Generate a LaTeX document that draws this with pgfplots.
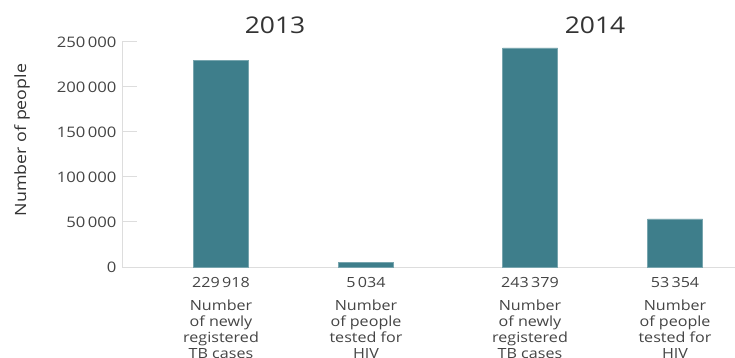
\documentclass[border=0pt]{standalone}
\usepackage{pgfplots}
\pgfplotsset{compat=1.18}
\usepackage{fontspec}
\setmainfont{Open Sans}[FakeStretch=1.15]
\definecolor{barc}{HTML}{3E7E8B}
\definecolor{axc}{HTML}{DDDDDD}
\definecolor{txt}{HTML}{333333}
\definecolor{tk}{HTML}{444444}
\begin{document}
\begin{tikzpicture}
\path[use as bounding box] (0,0) rectangle (735bp,358bp);
\begin{axis}[
  at={(122bp,91bp)}, anchor=origin,
  scale only axis, width=613bp, height=225bp,
  xmin=122, xmax=735, ymin=0, ymax=250000,
  scaled y ticks=false,
  axis x line*=bottom, axis y line*=left,
  axis line style={axc, line width=1bp},
  ytick={0,50000,100000,150000,200000,250000},
  yticklabels={0,50\,000,100\,000,150\,000,200\,000,250\,000},
  yticklabel style={font=\fontsize{14.5bp}{16bp}\selectfont, text=tk, xshift=-2bp},
  ytick style={axc, line width=1bp},
  tick align=inside, major tick length=15bp,
  xtick={221,366,530,675},
  xtick style={draw=none},
  xticklabels={
    {229\,918\\[7bp]Number\\of newly\\registered\\TB cases},
    {5\,034\\[7bp]Number\\of people\\tested for\\HIV},
    {243\,379\\[7bp]Number\\of newly\\registered\\TB cases},
    {53\,354\\[7bp]Number\\of people\\tested for\\HIV}},
  xticklabel style={align=center, font=\fontsize{14bp}{16bp}\selectfont, text=tk, yshift=-7bp},
  clip=false,
]
\addplot[ybar, bar width=55bp, fill=barc, draw=barc!70!white, line width=0.6bp]
  coordinates {(221,229918) (366,5034) (530,243379) (675,53354)};
\node[font=\fontsize{23bp}{26bp}\selectfont, text=txt] at (axis cs:275,268889) {2013};
\node[font=\fontsize{23bp}{26bp}\selectfont, text=txt] at (axis cs:595,268889) {2014};
\node[rotate=90, font=\fontsize{15.5bp}{18bp}\selectfont, text=txt] at (axis cs:22,141111) {Number of people};
\end{axis}
\end{tikzpicture}
\end{document}
